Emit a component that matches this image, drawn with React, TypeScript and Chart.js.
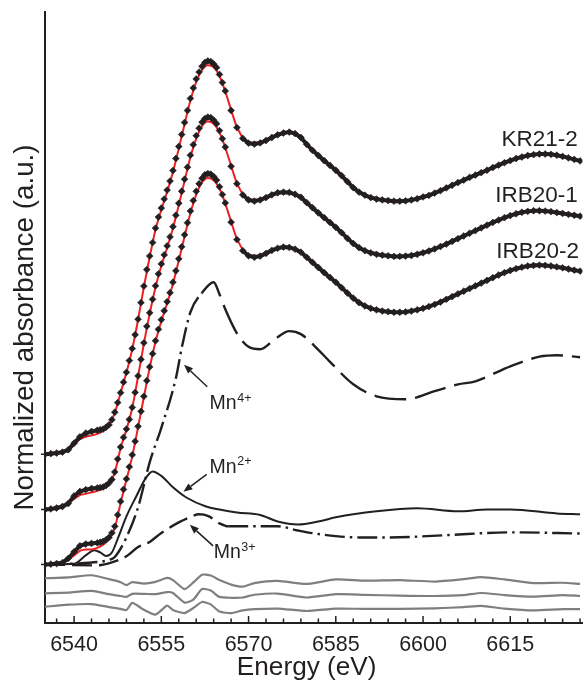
import React, { useEffect, useRef } from 'react';
import { Chart, registerables } from 'chart.js';

Chart.register(...registerables);

// ---------- energy grid of the measured spectra (eV) ----------
const ENERGY = [
  6535, 6536, 6537, 6538, 6539, 6540, 6541, 6542, 6543,
  6544, 6544.5, 6545, 6545.5, 6546, 6546.5, 6547, 6547.5, 6548, 6548.5, 6549, 6549.5,
  6550, 6550.5, 6551, 6551.5, 6552, 6552.5, 6553, 6553.5, 6554, 6554.5, 6555, 6555.5,
  6556, 6556.5, 6557, 6557.5, 6558, 6558.5, 6559, 6559.5, 6560, 6560.5, 6561, 6561.5,
  6562, 6562.5, 6563, 6563.5, 6564, 6564.5, 6565, 6565.5, 6566,
  6567, 6568, 6569, 6570, 6571, 6572, 6573, 6574, 6575, 6576, 6577, 6578, 6579, 6580,
  6581, 6582, 6583, 6584, 6585, 6586, 6587, 6588, 6589, 6590, 6591, 6592, 6593, 6594,
  6595, 6596, 6597, 6598, 6599, 6600, 6601, 6602, 6603, 6604, 6605, 6606, 6607, 6608,
  6609, 6610, 6611, 6612, 6613, 6614, 6615, 6616, 6617, 6618, 6619, 6620, 6621, 6622,
  6623, 6624, 6625, 6626, 6627,
];

// ---------- measured spectra (normalized absorbance) ----------
const KR21_2 = [
  0, 0.002, 0.004, 0.007, 0.015, 0.037, 0.058, 0.07, 0.076,
  0.08, 0.082, 0.084, 0.09, 0.098, 0.115, 0.14, 0.172, 0.205, 0.24, 0.273, 0.312,
  0.352, 0.398, 0.45, 0.505, 0.56, 0.615, 0.66, 0.705, 0.753, 0.79, 0.82, 0.85,
  0.88, 0.91, 0.945, 0.985, 1.025, 1.065, 1.105, 1.145, 1.185, 1.22, 1.25, 1.273,
  1.292, 1.305, 1.31, 1.308, 1.3, 1.288, 1.265, 1.238, 1.21,
  1.145, 1.088, 1.052, 1.036, 1.033, 1.037, 1.045, 1.055, 1.064, 1.07, 1.073, 1.068, 1.055, 1.032,
  1.012, 0.995, 0.978, 0.962, 0.946, 0.928, 0.908, 0.888, 0.873, 0.863, 0.855, 0.85, 0.847, 0.845,
  0.843, 0.843, 0.844, 0.847, 0.851, 0.857, 0.862, 0.87, 0.878, 0.887, 0.896, 0.905, 0.913, 0.922,
  0.93, 0.938, 0.946, 0.955, 0.963, 0.971, 0.978, 0.985, 0.99, 0.995, 0.998, 1.0, 1.0, 0.999,
  0.996, 0.992, 0.987, 0.982, 0.977,
];
const IRB20_1 = [
  0, 0.002, 0.005, 0.01, 0.02, 0.045, 0.06, 0.066, 0.07,
  0.072, 0.073, 0.075, 0.08, 0.088, 0.1, 0.125, 0.168, 0.208, 0.24, 0.268, 0.3,
  0.34, 0.39, 0.445, 0.5, 0.555, 0.61, 0.655, 0.7, 0.745, 0.785, 0.818, 0.848,
  0.878, 0.908, 0.942, 0.98, 1.02, 1.06, 1.1, 1.14, 1.18, 1.215, 1.245, 1.27,
  1.29, 1.302, 1.307, 1.305, 1.297, 1.285, 1.262, 1.235, 1.207,
  1.143, 1.085, 1.048, 1.031, 1.027, 1.031, 1.039, 1.048, 1.055, 1.057, 1.056, 1.05, 1.04, 1.022,
  1.005, 0.988, 0.972, 0.956, 0.94, 0.922, 0.903, 0.886, 0.872, 0.862, 0.855, 0.85, 0.847, 0.845,
  0.843, 0.843, 0.844, 0.846, 0.85, 0.855, 0.861, 0.868, 0.876, 0.884, 0.893, 0.902, 0.911, 0.92,
  0.929, 0.938, 0.947, 0.956, 0.964, 0.972, 0.979, 0.985, 0.99, 0.993, 0.995, 0.995, 0.994, 0.992,
  0.989, 0.986, 0.983, 0.98, 0.977,
];
const IRB20_2 = [
  0, 0.001, 0.003, 0.006, 0.02, 0.042, 0.062, 0.068, 0.07,
  0.072, 0.074, 0.077, 0.082, 0.09, 0.105, 0.127, 0.165, 0.21, 0.25, 0.285, 0.325,
  0.365, 0.41, 0.46, 0.51, 0.56, 0.612, 0.658, 0.702, 0.745, 0.783, 0.815, 0.845,
  0.875, 0.905, 0.94, 0.978, 1.018, 1.058, 1.098, 1.138, 1.177, 1.212, 1.243, 1.268,
  1.286, 1.298, 1.302, 1.3, 1.292, 1.28, 1.258, 1.232, 1.204,
  1.14, 1.082, 1.045, 1.028, 1.023, 1.027, 1.036, 1.046, 1.053, 1.057, 1.056, 1.05, 1.04, 1.023,
  1.006, 0.989, 0.972, 0.956, 0.94, 0.922, 0.904, 0.887, 0.872, 0.861, 0.853, 0.848, 0.844, 0.842,
  0.84, 0.84, 0.841, 0.844, 0.848, 0.853, 0.859, 0.866, 0.874, 0.883, 0.892, 0.901, 0.91, 0.919,
  0.928, 0.937, 0.946, 0.955, 0.964, 0.972, 0.979, 0.985, 0.99, 0.994, 0.996, 0.997, 0.996, 0.994,
  0.991, 0.988, 0.984, 0.98, 0.977,
];

// ---------- linear-combination fits (red) ----------
const FIT_ENERGY = [
  6535, 6538, 6540, 6541, 6542, 6543, 6544, 6545, 6546, 6547, 6548, 6549, 6550, 6551,
  6552, 6553, 6554, 6555, 6556, 6557, 6558, 6559, 6560, 6561, 6562, 6563, 6564, 6565,
  6566, 6567, 6568, 6570, 6572, 6574, 6576, 6578, 6580, 6584, 6588, 6592, 6596, 6600,
  6605, 6610, 6615, 6620, 6624, 6627,
];
const FIT_KR21_2 = [
  0, 0.005, 0.03, 0.05, 0.058, 0.063, 0.068, 0.078, 0.097, 0.138, 0.205, 0.272, 0.35, 0.448,
  0.557, 0.657, 0.748, 0.815, 0.874, 0.94, 1.018, 1.1, 1.178, 1.24, 1.28, 1.296, 1.29, 1.26,
  1.208, 1.147, 1.09, 1.038, 1.038, 1.056, 1.07, 1.07, 1.034, 0.962, 0.888, 0.85, 0.843, 0.857,
  0.896, 0.938, 0.978, 1.0, 0.992, 0.977,
];
const FIT_IRB20_1 = [
  0, 0.008, 0.035, 0.048, 0.052, 0.057, 0.062, 0.07, 0.086, 0.123, 0.205, 0.266, 0.338, 0.443,
  0.552, 0.652, 0.74, 0.812, 0.872, 0.937, 1.013, 1.095, 1.173, 1.235, 1.277, 1.292, 1.285, 1.256,
  1.205, 1.145, 1.087, 1.033, 1.032, 1.049, 1.058, 1.052, 1.024, 0.956, 0.886, 0.85, 0.843, 0.855,
  0.893, 0.938, 0.979, 0.995, 0.986, 0.977,
];
const FIT_IRB20_2 = [
  0, 0.005, 0.03, 0.045, 0.05, 0.05, 0.055, 0.066, 0.085, 0.122, 0.205, 0.282, 0.36, 0.457,
  0.557, 0.655, 0.742, 0.81, 0.87, 0.935, 1.012, 1.093, 1.17, 1.232, 1.272, 1.287, 1.28, 1.252,
  1.202, 1.142, 1.085, 1.03, 1.028, 1.047, 1.058, 1.052, 1.025, 0.956, 0.887, 0.848, 0.84, 0.853,
  0.892, 0.937, 0.979, 0.997, 0.988, 0.977,
];

// ---------- reference standards ----------
const MN4_ENERGY = [
  6535, 6540, 6544, 6546, 6547, 6549, 6551, 6553, 6555, 6557.5, 6558.5, 6560, 6562, 6564,
  6565, 6566, 6568, 6570, 6572, 6574.5, 6577, 6579, 6582, 6584, 6588, 6592, 6597, 6602,
  6606, 6609, 6615, 6620, 6623, 6627,
];
const MN4_VALUES = [
  0, 0.003, 0.008, 0.015, 0.025, 0.09, 0.19, 0.34, 0.455, 0.62, 0.72, 0.84, 0.905, 0.94,
  0.9, 0.85, 0.77, 0.725, 0.717, 0.75, 0.777, 0.767, 0.715, 0.675, 0.6, 0.56, 0.55, 0.577,
  0.6, 0.61, 0.66, 0.692, 0.697, 0.69,
];
const MN2_ENERGY = [
  6535, 6540, 6542, 6543.5, 6544.5, 6545.5, 6546.5, 6547.5, 6549, 6550.7, 6552.4, 6553.5,
  6555, 6557, 6559.3, 6562.7, 6565, 6568, 6572, 6575, 6578.5, 6582, 6585, 6592, 6599, 6606,
  6611, 6615, 6623, 6627,
];
const MN2_VALUES = [
  0, 0.002, 0.03, 0.047, 0.04, 0.028, 0.04, 0.085, 0.16, 0.227, 0.29, 0.31,
  0.295, 0.257, 0.223, 0.193, 0.183, 0.173, 0.165, 0.143, 0.133, 0.143, 0.157, 0.177, 0.187, 0.177,
  0.183, 0.183, 0.17, 0.167,
];
const MN3_ENERGY = [
  6535, 6544, 6546.5, 6549, 6551, 6553, 6555, 6558, 6560, 6561.5, 6563, 6565, 6566.5, 6572,
  6575, 6578.5, 6582.5, 6589, 6594, 6603.5, 6615, 6627,
];
const MN3_VALUES = [
  0, -0.003, 0.007, 0.027, 0.058, 0.075, 0.105, 0.14, 0.158, 0.167, 0.162, 0.137, 0.127, 0.127,
  0.127, 0.113, 0.1, 0.09, 0.09, 0.097, 0.107, 0.103,
];

// ---------- fit residuals (grey) ----------
const RES_ENERGY = [
  6535, 6539, 6543, 6546, 6548, 6549, 6550, 6552, 6554, 6556, 6557, 6559, 6560.5, 6562,
  6563.5, 6565, 6567, 6569, 6571, 6575, 6580, 6585, 6590, 6596, 6602, 6607, 6610, 6614,
  6619, 6624, 6627,
];
const RES_KR21_2 = [
  0.006, 0.009, 0.016, 0.003, -0.007, -0.017, -0.007, -0.012, -0.006, 0.007, 0, -0.03, -0.008, 0.018,
  0.015, 0, -0.015, -0.022, -0.01, -0.003, -0.013, 0.002, -0.002, 0, -0.005, 0.003, 0.01, 0.002,
  -0.01, -0.009, -0.013,
];
const RES_IRB20_1 = [
  0.006, 0.008, 0.014, 0.003, -0.003, -0.006, 0.004, 0.004, 0.003, 0.01, 0.007, -0.025, -0.015, 0.02,
  0.015, -0.006, -0.009, -0.008, 0.001, 0.005, -0.008, 0.003, 0.001, -0.002, -0.003, 0, 0.007, 0,
  -0.005, 0, -0.003,
];
const RES_IRB20_2 = [
  0.004, 0.011, 0.013, 0.003, -0.003, -0.007, 0.017, -0.006, -0.022, 0.008, -0.007, -0.017, 0, 0.02,
  0.012, -0.012, -0.017, -0.008, -0.004, -0.002, -0.01, -0.002, -0.003, -0.003, -0.001, 0.003, 0.007, -0.002,
  -0.008, -0.004, -0.004,
];

// ---------- stacking, axes and labels ----------
const SAMPLE_NAMES = ['KR21-2', 'IRB20-1', 'IRB20-2'];
const SAMPLE_OFFSETS = [0.367, 0.183, 0];
const RESIDUAL_OFFSETS = [-0.052, -0.102, -0.145];
const SAMPLE_LABEL_AT = [
  [6626.6, 1.393],
  [6626.6, 1.207],
  [6626.8, 1.021],
];
const MN_LABELS = [
  { base: 'Mn', sup: '4+', at: [6563.3, 0.517], tail: [6562.9, 0.592], tip: [6558.9, 0.665] },
  { base: 'Mn', sup: '2+', at: [6563.3, 0.306], tail: [6562.8, 0.3], tip: [6558.8, 0.242] },
  { base: 'Mn', sup: '3+', at: [6564.0, 0.021], tail: [6563.9, 0.062], tip: [6559.9, 0.132] },
];
const X_LABEL_TICKS = [6540, 6555, 6570, 6585, 6600, 6615];
const X_MIN = 6535;
const X_MAX = 6627.4;
const X_MINOR_STEP = 3;
const Y_MIN = -0.195;
const Y_MAX = 1.84;
const X_TITLE = 'Energy (eV)';
const Y_TITLE = 'Normalized absorbance (a.u.)';

const INK = '#231f20';
const RED = '#ed2024';
const GREY = '#7f7f7f';
const FONT = '"Liberation Sans", Arial, Helvetica, sans-serif';
const LONG_DASH = [32, 9];
const SHORT_DASH = [20, 7];
const DASH_DOT = [20, 5, 2.5, 5];

const pts = (xs: number[], ys: number[], off: number) =>
  xs.map((e, i) => ({ x: e, y: ys[i] + off }));

// thick band where the markers merge (shallow parts), invisible on the steep edge
const bandColor = (c: any) => {
  const dx = Math.abs(c.p1.x - c.p0.x) || 1e-6;
  const dy = Math.abs(c.p1.y - c.p0.y);
  return dy / dx > 1.3 ? 'rgba(0,0,0,0)' : INK;
};

const overlay = {
  id: 'overlay',
  afterDraw(chart: any) {
    const { ctx, chartArea: a } = chart;
    const xs = chart.scales.x;
    const ys = chart.scales.y;
    const X = (v: number) => xs.getPixelForValue(v);
    const Y = (v: number) => ys.getPixelForValue(v);
    ctx.save();
    ctx.strokeStyle = INK;
    ctx.fillStyle = INK;
    ctx.lineCap = 'butt';

    // inward x ticks
    ctx.lineWidth = 1.5;
    for (const t of xs.ticks) {
      const px = X(t.value);
      const major = X_LABEL_TICKS.includes(t.value);
      ctx.beginPath();
      ctx.moveTo(px, a.bottom);
      ctx.lineTo(px, a.bottom - (major ? 7 : 4.5));
      ctx.stroke();
    }
    // small outward y ticks at each spectrum baseline
    for (const off of SAMPLE_OFFSETS) {
      const py = Y(off);
      ctx.beginPath();
      ctx.moveTo(a.left - 4, py);
      ctx.lineTo(a.left, py);
      ctx.stroke();
    }

    // x tick labels
    ctx.font = `21.5px ${FONT}`;
    ctx.textAlign = 'center';
    ctx.textBaseline = 'alphabetic';
    for (const v of X_LABEL_TICKS) ctx.fillText(String(v), X(v), a.bottom + 27.5);

    // axis titles
    ctx.font = `26.2px ${FONT}`;
    ctx.fillText(X_TITLE, (a.left + a.right) / 2 - 7, a.bottom + 52);
    ctx.save();
    ctx.translate(a.left - 12, (a.top + a.bottom) / 2 + 10);
    ctx.rotate(-Math.PI / 2);
    ctx.font = `27.8px ${FONT}`;
    ctx.fillText(Y_TITLE, 0, 0);
    ctx.restore();

    // sample names
    ctx.font = `22.5px ${FONT}`;
    ctx.textAlign = 'right';
    SAMPLE_NAMES.forEach((n, i) => {
      const [e, v] = SAMPLE_LABEL_AT[i];
      ctx.fillText(n, X(e), Y(v));
    });

    // oxidation state labels with arrows
    for (const m of MN_LABELS) {
      const px = X(m.at[0]);
      const py = Y(m.at[1]);
      ctx.textAlign = 'left';
      ctx.font = `19.5px ${FONT}`;
      ctx.fillText(m.base, px, py);
      const w = ctx.measureText(m.base).width;
      ctx.font = `12.5px ${FONT}`;
      ctx.fillText(m.sup, px + w + 0.5, py - 7.5);

      const x0 = X(m.tail[0]);
      const y0 = Y(m.tail[1]);
      const x1 = X(m.tip[0]);
      const y1 = Y(m.tip[1]);
      const ang = Math.atan2(y1 - y0, x1 - x0);
      const head = 9;
      const half = 3.6;
      const bx = x1 - head * Math.cos(ang);
      const by = y1 - head * Math.sin(ang);
      ctx.lineWidth = 1.5;
      ctx.beginPath();
      ctx.moveTo(x0, y0);
      ctx.lineTo(bx, by);
      ctx.stroke();
      ctx.beginPath();
      ctx.moveTo(x1, y1);
      ctx.lineTo(bx + half * Math.sin(ang), by - half * Math.cos(ang));
      ctx.lineTo(bx - half * Math.sin(ang), by + half * Math.cos(ang));
      ctx.closePath();
      ctx.fill();
    }
    ctx.restore();
  },
};

export default function App() {
  const ref = useRef<HTMLCanvasElement | null>(null);

  useEffect(() => {
    if (!ref.current) return;
    const spectra = [KR21_2, IRB20_1, IRB20_2];
    const fits = [FIT_KR21_2, FIT_IRB20_1, FIT_IRB20_2];
    const residuals = [RES_KR21_2, RES_IRB20_1, RES_IRB20_2];

    const datasets: any[] = [];
    spectra.forEach((s, i) => {
      datasets.push({
        label: SAMPLE_NAMES[i],
        data: pts(ENERGY, s, SAMPLE_OFFSETS[i]),
        showLine: true,
        borderWidth: 4,
        borderColor: INK,
        segment: { borderColor: bandColor },
        pointStyle: 'rectRot',
        pointRadius: 3.4,
        pointBackgroundColor: INK,
        pointBorderColor: INK,
        pointBorderWidth: 0.6,
        order: 0,
      });
    });
    fits.forEach((f, i) => {
      datasets.push({
        label: SAMPLE_NAMES[i] + ' fit',
        data: pts(FIT_ENERGY, f, SAMPLE_OFFSETS[i]),
        borderColor: RED,
        borderWidth: 2,
        pointRadius: 0,
        cubicInterpolationMode: 'monotone',
        order: 1,
      });
    });
    datasets.push({
      label: 'Mn4+',
      data: pts(MN4_ENERGY, MN4_VALUES, 0),
      borderColor: INK,
      borderWidth: 2.4,
      pointRadius: 0,
      cubicInterpolationMode: 'monotone',
      segment: {
        borderDash: (c: any) => (MN4_ENERGY[c.p1DataIndex] <= 6562 ? DASH_DOT : LONG_DASH),
      },
      order: 2,
    });
    datasets.push({
      label: 'Mn2+',
      data: pts(MN2_ENERGY, MN2_VALUES, 0),
      borderColor: INK,
      borderWidth: 2,
      pointRadius: 0,
      cubicInterpolationMode: 'monotone',
      order: 2,
    });
    datasets.push({
      label: 'Mn3+',
      data: pts(MN3_ENERGY, MN3_VALUES, 0),
      borderColor: INK,
      borderWidth: 2.4,
      pointRadius: 0,
      cubicInterpolationMode: 'monotone',
      segment: {
        borderDash: (c: any) => (MN3_ENERGY[c.p1DataIndex] <= 6566.5 ? SHORT_DASH : DASH_DOT),
      },
      order: 2,
    });
    residuals.forEach((r, i) => {
      datasets.push({
        label: SAMPLE_NAMES[i] + ' residual',
        data: pts(RES_ENERGY, r, RESIDUAL_OFFSETS[i]),
        borderColor: GREY,
        borderWidth: 2.2,
        pointRadius: 0,
        tension: 0.2,
        order: 3,
      });
    });

    const chart = new Chart(ref.current, {
      type: 'line',
      data: { datasets },
      options: {
        animation: false,
        responsive: false,
        devicePixelRatio: 1,
        events: [],
        layout: { padding: { top: 12, left: 0, right: 0, bottom: 0 } },
        plugins: { legend: { display: false }, tooltip: { enabled: false }, title: { display: false } },
        scales: {
          x: {
            type: 'linear',
            min: X_MIN,
            max: X_MAX,
            ticks: { display: false },
            grid: { display: false },
            border: { display: true, color: INK, width: 2 },
            afterBuildTicks: (scale: any) => {
              const t = [];
              for (let v = Math.ceil(X_MIN / X_MINOR_STEP) * X_MINOR_STEP; v <= X_MAX; v += X_MINOR_STEP) {
                t.push({ value: v });
              }
              scale.ticks = t;
            },
            afterFit: (scale: any) => {
              scale.height = 58;
            },
          },
          y: {
            type: 'linear',
            min: Y_MIN,
            max: Y_MAX,
            ticks: { display: false },
            grid: { display: false },
            border: { display: true, color: INK, width: 2 },
            afterFit: (scale: any) => {
              scale.width = 45;
            },
          },
        },
      },
      plugins: [overlay],
    } as any);
    return () => chart.destroy();
  }, []);

  return (
    <div style={{ position: 'absolute', left: 0, top: 0, width: 587, height: 681, background: '#fff' }}>
      <canvas ref={ref} width={587} height={681} style={{ display: 'block' }} />
    </div>
  );
}
